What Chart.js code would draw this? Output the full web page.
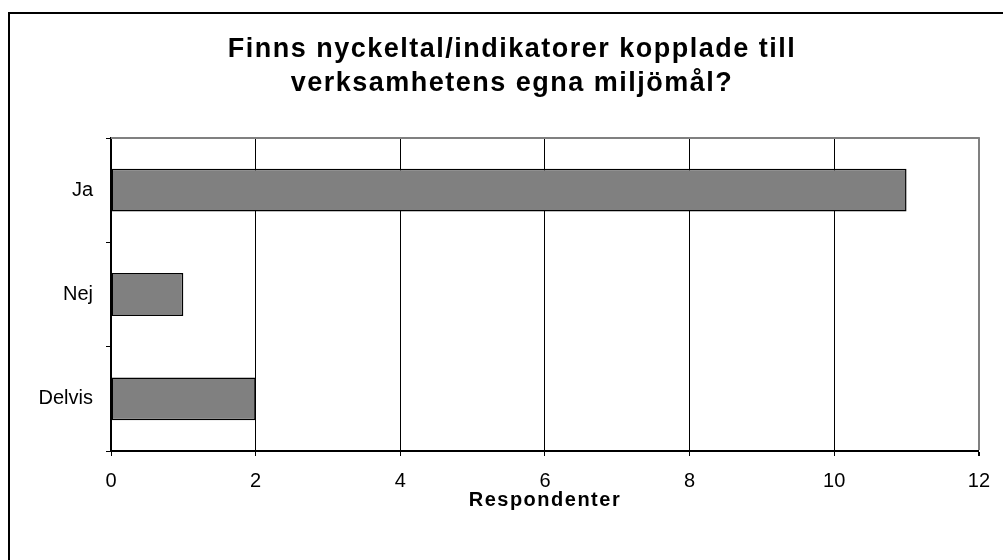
<!DOCTYPE html>
<html>
<head>
<meta charset="utf-8">
<script src="https://cdn.jsdelivr.net/npm/chart.js@4"></script>
<style>
    body { margin: 0; background: white; }
</style>
</head>
<body>
<canvas id="chart" width="1003" height="560"></canvas>
<script>
// DATA
const kategorier = ["Ja", "Nej", "Delvis"];
const respondenter = [11, 1, 2];
const titelRader = ["Finns nyckeltal/indikatorer kopplade till", "verksamhetens egna miljömål?"];
const xTitel = "Respondenter";
const xMin = 0;
const xMax = 12;
const xSteg = 2;

const fontFamily = "'Liberation Sans', Arial, sans-serif";

// spacing for title texts, reset before the tick labels
const spacing = {
    id: "spacing",
    afterLayout(chart) {
        // title centred a bit right of the canvas centre
        chart.titleBlock.left = 42;
        chart.titleBlock.right = 982;
    },
    beforeDraw(chart) {
        chart.ctx.letterSpacing = "1.5px";
    },
    beforeDatasetsDraw(chart) {
        const ctx = chart.ctx;
        const a = chart.chartArea;
        ctx.letterSpacing = "0px";
        // grey top edge of plot area
        ctx.save();
        ctx.strokeStyle = "#808080";
        ctx.lineWidth = 2;
        ctx.beginPath();
        ctx.moveTo(a.left, a.top);
        ctx.lineTo(a.right + 1, a.top);
        ctx.stroke();
        ctx.restore();
    },
    afterDraw(chart) {
        // outer frame
        const ctx = chart.ctx;
        ctx.save();
        ctx.strokeStyle = "#000";
        ctx.lineWidth = 2;
        ctx.strokeRect(9, 13, 1200, 800);
        ctx.restore();
    }
};

const config = {
    type: "bar",
    data: {
        labels: kategorier,
        datasets: [{
            data: respondenter,
            backgroundColor: "#808080",
            borderColor: "#000",
            borderWidth: 1.5,
            borderSkipped: false,
            barPercentage: 0.41,
            categoryPercentage: 1
        }]
    },
    options: {
        indexAxis: "y",
        responsive: false,
        animation: false,
        layout: {
            padding: { left: 0, right: 23, top: 0, bottom: 0 }
        },
        plugins: {
            legend: { display: false },
            tooltip: { enabled: false },
            title: {
                display: true,
                text: titelRader,
                color: "#000",
                font: { family: fontFamily, size: 27, weight: "bold", lineHeight: 1.278 },
                padding: { top: 32, bottom: 37 }
            }
        },
        scales: {
            x: {
                min: xMin,
                max: xMax,
                afterFit(scale) { scale.height = 109; },
                ticks: {
                    stepSize: xSteg,
                    color: "#000",
                    padding: 13,
                    z: 1,
                    font: { family: fontFamily, size: 20 }
                },
                grid: {
                    color: (c) => (c.tick && c.tick.value === xMax ? "#808080" : "#000"),
                    lineWidth: (c) => (c.tick && c.tick.value === xMax ? 2 : 1),
                    tickColor: "#000",
                    tickLength: 5
                },
                border: { display: true, color: "#000", width: 2 },
                title: {
                    display: true,
                    text: xTitel,
                    color: "#000",
                    font: { family: fontFamily, size: 20, weight: "bold" },
                    padding: { top: 0, bottom: 48 }
                }
            },
            y: {
                afterFit(scale) { scale.width = 111; },
                ticks: {
                    color: "#000",
                    padding: 13,
                    z: 1,
                    font: { family: fontFamily, size: 20 }
                },
                grid: {
                    drawOnChartArea: false,
                    offset: true,
                    color: "#000",
                    tickLength: 5
                },
                border: { display: true, color: "#000", width: 1.5 }
            }
        }
    },
    plugins: [spacing]
};

const grafico = new Chart(document.getElementById("chart"), config);
</script>
</body>
</html>
